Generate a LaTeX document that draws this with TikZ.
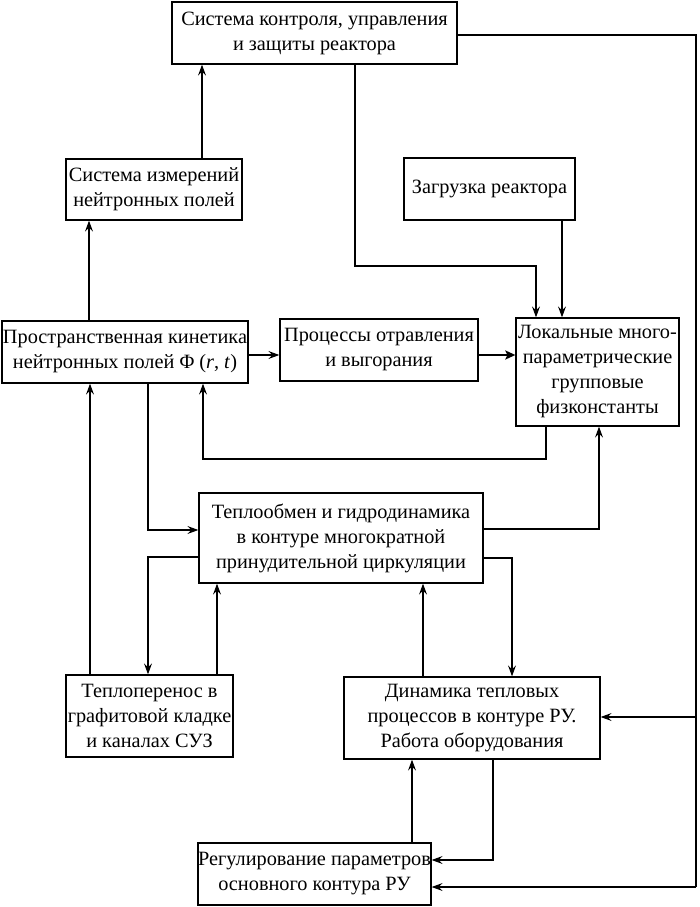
\documentclass[tikz,border=0pt]{standalone}
\usepackage{fontspec}
\setmainfont{Liberation Serif}
\usetikzlibrary{arrows.meta}
\begin{document}
\begin{tikzpicture}[x=1pt,y=-1pt,
  box/.style={draw, line width=1.3pt, inner sep=0pt, align=center,
    font=\fontsize{20.3}{25}\selectfont},
  arr/.style={line width=1.2pt, -{Stealth[length=11pt,width=8pt,inset=4pt]}},
  thickarr/.style={line width=2.6pt, -{Stealth[length=10pt,width=9pt,inset=2pt]}},
  ln/.style={line width=1.2pt}]
\useasboundingbox (0,0) rectangle (699,907);
% boxes
\node[box, minimum width=285pt, minimum height=62pt] (sku) at (314.5,33)
  {Система контроля, управления\\и защиты реактора};
\node[box, minimum width=176pt, minimum height=61pt] (izm) at (154,189.5)
  {Система измерений\\нейтронных полей};
\node[box, minimum width=171pt, minimum height=62pt] (zag) at (489.5,189)
  {Загрузка реактора};
\node[box, minimum width=246pt, minimum height=62pt] (pro) at (125,352)
  {Пространственная кинетика\\нейтронных полей Φ (\textit{r}, \textit{t})};
\node[box, minimum width=198pt, minimum height=62pt] (otr) at (379,350)
  {Процессы отравления\\и выгорания};
\node[box, minimum width=163pt, minimum height=108pt] (lok) at (597.5,372)
  {Локальные много-\\параметрические\\групповые\\физконстанты};
\node[box, minimum width=284pt, minimum height=90pt] (tep) at (341,538)
  {Теплообмен и гидродинамика\\в контуре многократной\\принудительной циркуляции};
\node[box, minimum width=167pt, minimum height=82pt] (tpr) at (149.5,716)
  {Теплоперенос в\\графитовой кладке\\и каналах СУЗ};
\node[box, minimum width=256pt, minimum height=82pt] (din) at (472,718)
  {Динамика тепловых\\процессов в контуре РУ.\\Работа оборудования};
\node[box, minimum width=233pt, minimum height=62pt] (reg) at (314.5,874)
  {Регулирование параметров\\основного контура РУ};
% helper coordinates
\coordinate (rt) at (696,35);
% connectors
\draw[arr] (pro.north -| 89,0) -- (izm.south -| 89,0);
\draw[arr] (izm.north -| 202,0) -- (sku.south -| 202,0);
\draw[arr] (sku.south -| 355,0) -- (355,266) -- (536,266) -- (lok.north -| 536,0);
\draw[arr] (zag.south -| 562,0) -- (lok.north -| 562,0);
\draw[ln] (sku.east |- rt) -- (rt) -- (696,887);
\draw[arr] (696,887) -- (reg.east |- 0,887);
\draw[arr] (696,717) -- (din.east |- 0,717);
\draw[arr] (pro.east |- 0,355) -- (otr.west |- 0,355);
\draw[thickarr] (otr.east |- 0,355) -- (lok.west |- 0,355);
\draw[arr] (lok.south -| 546,0) -- (546,459) -- (203,459) -- (pro.south -| 203,0);
\draw[arr] (pro.south -| 148,0) -- (148,530) -- (tep.west |- 0,530);
\draw[arr] (tep.east |- 0,529) -- (599,529) -- (lok.south -| 599,0);
\draw[arr] (tep.west |- 0,557) -- (148,557) -- (tpr.north -| 148,0);
\draw[arr] (tep.east |- 0,558) -- (512,558) -- (din.north -| 512,0);
\draw[arr] (tpr.north -| 90,0) -- (pro.south -| 90,0);
\draw[arr] (tpr.north -| 217,0) -- (tep.south -| 217,0);
\draw[arr] (din.north -| 423,0) -- (tep.south -| 423,0);
\draw[arr] (reg.north -| 412,0) -- (din.south -| 412,0);
\draw[arr] (din.south -| 493,0) -- (493,860) -- (reg.east |- 0,860);
\end{tikzpicture}
\end{document}
